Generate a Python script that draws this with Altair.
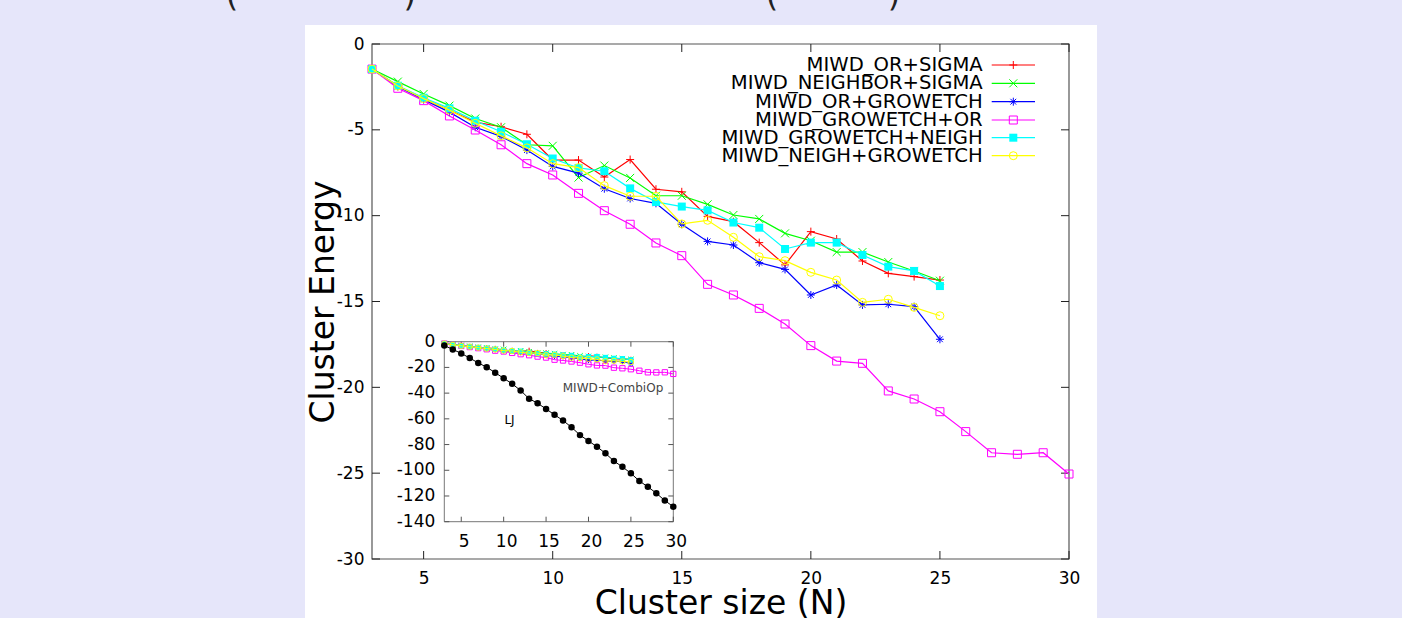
import altair as alt
import pandas as pd

# ---------------- data ----------------
N_SHORT = list(range(3, 26))
N_LONG = list(range(3, 31))

series_names = ["MIWD_OR+SIGMA", "MIWD_NEIGHBOR+SIGMA", "MIWD_OR+GROWETCH",
                "MIWD_GROWETCH+OR", "MIWD_GROWETCH+NEIGH", "MIWD_NEIGH+GROWETCH"]
series_colors = ["#ff0000", "#00ff00", "#0000ff", "#ff00ff", "#00ffff", "#ffff00"]

or_sigma = [-1.46, -2.45, -3.18, -3.85, -4.55, -4.82, -5.26, -6.76, -6.76, -7.75, -6.73, -8.46,
            -8.61, -10.04, -10.35, -11.57, -12.87, -10.93, -11.36, -12.64, -13.36, -13.55, -13.75]
neighbor_sigma = [-1.46, -2.19, -2.91, -3.59, -4.34, -4.85, -5.87, -5.93, -7.78, -7.08, -7.80, -8.84,
                  -8.84, -9.34, -9.96, -10.19, -11.03, -11.46, -12.12, -12.12, -12.70, -13.22, -13.79]
or_growetch = [-1.46, -2.47, -3.24, -3.97, -4.85, -5.38, -6.18, -7.13, -7.52, -8.43, -9.00, -9.28,
               -10.50, -11.50, -11.71, -12.74, -13.13, -14.62, -14.04, -15.20, -15.16, -15.30, -17.20]
growetch_or = [-1.46, -2.58, -3.30, -4.19, -5.01, -5.87, -6.97, -7.63, -8.70, -9.71, -10.50, -11.59,
               -12.33, -14.00, -14.62, -15.40, -16.31, -17.57, -18.47, -18.60, -20.21, -20.68, -21.42,
               -22.58, -23.81, -23.90, -23.81, -25.05]
growetch_neigh = [-1.46, -2.43, -3.13, -3.75, -4.47, -5.11, -5.84, -6.67, -7.22, -7.41, -8.41, -9.20,
                  -9.47, -9.69, -10.40, -10.70, -11.94, -11.57, -11.57, -12.29, -12.97, -13.22, -14.10]
neigh_growetch = [-1.46, -2.45, -3.18, -3.85, -4.62, -5.35, -6.05, -6.97, -7.20, -8.25, -8.87, -8.87,
                  -10.48, -10.27, -11.26, -12.39, -12.62, -13.30, -13.75, -15.05, -14.87, -15.34, -15.83]
lj = [-3.0, -6.0, -9.1, -12.71, -16.51, -19.82, -24.11, -28.42, -32.77, -37.97, -44.33, -47.85,
      -52.32, -56.82, -61.32, -66.53, -72.66, -77.18, -81.68, -86.81, -92.84, -97.35, -102.37,
      -108.32, -112.87, -117.82, -123.59, -128.29]

series_values = [or_sigma, neighbor_sigma, or_growetch, growetch_or, growetch_neigh, neigh_growetch]
series_n = [N_SHORT, N_SHORT, N_SHORT, N_LONG, N_SHORT, N_SHORT]

main_xticks = [5, 10, 15, 20, 25, 30]
main_yticks = [0, -5, -10, -15, -20, -25, -30]
inset_xticks = [5, 10, 15, 20, 25, 30]
inset_yticks = [0, -20, -40, -60, -80, -100, -120, -140]

# ---------------- styling ----------------
FONT = "DejaVu Sans"
BG = "#e6e6fa"
W, H = 697, 515
PAD_L, PAD_T = 372, 44

PLUS = "M-1,0L1,0M0,-1L0,1"
CROSS = "M-1,-1L1,1M-1,1L1,-1"
STAR = "M-1,0L1,0M0,-1L0,1M-0.72,-0.72L0.72,0.72M-0.72,0.72L0.72,-0.72"
shapes = [(PLUS, False), (CROSS, False), (STAR, False), ("square", False), ("square", True), ("circle", False)]

sx = alt.Scale(domain=[3, 30], nice=False, zero=False)
sy = alt.Scale(domain=[-30, 0], nice=False, zero=False)
ax_x = alt.Axis(values=main_xticks, ticks=False, tickSize=0, domain=False, grid=False,
                labelFont=FONT, labelFontSize=17, labelColor="black", labelPadding=11,
                labelFlush=False, labelOverlap=False, labelExpr="'' + datum.value",
                title="Cluster size (N)", titleFont=FONT, titleFontSize=33, titleFontWeight="normal",
                titleColor="black", titleY=54, titleBaseline="alphabetic", zindex=1)
ax_y = alt.Axis(values=main_yticks, ticks=False, tickSize=0, domain=False, grid=False,
                labelFont=FONT, labelFontSize=17, labelColor="black", labelPadding=8,
                labelFlush=False, labelOverlap=False, labelExpr="'' + datum.value",
                title="Cluster Energy", titleFont=FONT, titleFontSize=33, titleFontWeight="normal",
                titleColor="black", titleX=-39, titleY=H / 2, titleAngle=270,
                titleAlign="center", titleBaseline="alphabetic", zindex=1)
X = alt.X("N:Q", scale=sx, axis=ax_x)
Y = alt.Y("E:Q", scale=sy, axis=ax_y)

one = pd.DataFrame({"a": [0]})

# ---------------- main plot ----------------
main_layers = []
main_layers.append(alt.Chart(one).mark_rect(color="white").encode(
    x=alt.value(305 - PAD_L), x2=alt.value(1097 - PAD_L), y=alt.value(25 - PAD_T), y2=alt.value(H + 80)))
main_layers.append(alt.Chart(one).mark_rect(fillOpacity=0, stroke="#555555", strokeWidth=1.2).encode(
    x=alt.value(0), x2=alt.value(W), y=alt.value(0), y2=alt.value(H)))

xt = pd.DataFrame({"N": main_xticks})
yt = pd.DataFrame({"E": main_yticks})
TL = 8
main_layers.append(alt.Chart(xt).mark_rule(color="#222222").encode(x=X, y=alt.value(H), y2=alt.value(H - TL)))
main_layers.append(alt.Chart(xt).mark_rule(color="#222222").encode(x=X, y=alt.value(0), y2=alt.value(TL)))
main_layers.append(alt.Chart(yt).mark_rule(color="#222222").encode(y=Y, x=alt.value(0), x2=alt.value(TL)))
main_layers.append(alt.Chart(yt).mark_rule(color="#222222").encode(y=Y, x=alt.value(W - TL), x2=alt.value(W)))

for name, vals, ns, col, (shp, fil) in zip(series_names, series_values, series_n, series_colors, shapes):
    df = pd.DataFrame({"N": ns, "E": vals, "series": name})
    main_layers.append(alt.Chart(df).mark_line(color=col, strokeWidth=1.2).encode(x=X, y=Y))
    main_layers.append(alt.Chart(df).mark_point(shape=shp, filled=fil, color=col, size=64,
                                                strokeWidth=1, opacity=1).encode(x=X, y=Y))

main = alt.layer(*main_layers)

# ---------------- inset ----------------
IX0, IX1 = 444.3 - PAD_L, 673.3 - PAD_L
IYT, IYB = 341.7 - PAD_T, 521.7 - PAD_T
isx = alt.Scale(domain=[3, 30], range=[IX0, IX1], nice=False, zero=False)
isy = alt.Scale(domain=[-140, 0], range=[IYB, IYT], nice=False, zero=False)
IX = alt.X("N:Q", scale=isx, axis=None)
IY = alt.Y("E:Q", scale=isy, axis=None)

inset_layers = []
inset_layers.append(alt.Chart(one).mark_rect(fill="white", stroke="#777777", strokeWidth=1).encode(
    x=alt.X("x0:Q", scale=isx, axis=None), x2="x1:Q",
    y=alt.Y("y0:Q", scale=isy, axis=None), y2="y1:Q").transform_calculate(
    x0="3", x1="30", y0="-140", y1="0"))
ixt = pd.DataFrame({"N": inset_xticks, "lab": [str(v) for v in inset_xticks]})
iyt = pd.DataFrame({"E": inset_yticks, "lab": [str(v) for v in inset_yticks]})
ITL = 5
inset_layers.append(alt.Chart(ixt).mark_rule(color="#555555").encode(x=IX, y=alt.value(IYB), y2=alt.value(IYB - ITL)))
inset_layers.append(alt.Chart(ixt).mark_rule(color="#555555").encode(x=IX, y=alt.value(IYT), y2=alt.value(IYT + ITL)))
inset_layers.append(alt.Chart(iyt).mark_rule(color="#555555").encode(y=IY, x=alt.value(IX0), x2=alt.value(IX0 + ITL)))
inset_layers.append(alt.Chart(iyt).mark_rule(color="#555555").encode(y=IY, x=alt.value(IX1 - ITL), x2=alt.value(IX1)))
inset_layers.append(alt.Chart(ixt).mark_text(font=FONT, fontSize=17, color="black", baseline="top",
                                             align="center", dx=3).encode(
    x=IX, y=alt.value(IYB + 12), text="lab:N"))
inset_layers.append(alt.Chart(iyt).mark_text(font=FONT, fontSize=17, color="black", baseline="middle",
                                             align="right").encode(
    y=IY, x=alt.value(IX0 - 9), text="lab:N"))

for name, vals, ns, col, (shp, fil) in zip(series_names, series_values, series_n, series_colors, shapes):
    df = pd.DataFrame({"N": ns, "E": vals})
    inset_layers.append(alt.Chart(df).mark_line(color=col, strokeWidth=1).encode(x=IX, y=IY))
    inset_layers.append(alt.Chart(df).mark_point(shape=shp, filled=fil, color=col, size=28,
                                                 strokeWidth=1, opacity=1).encode(x=IX, y=IY))
ljdf = pd.DataFrame({"N": N_LONG, "E": lj})
inset_layers.append(alt.Chart(ljdf).mark_line(color="black", strokeWidth=1).encode(x=IX, y=IY))
inset_layers.append(alt.Chart(ljdf).mark_point(shape="circle", filled=True, color="black", size=42,
                                               opacity=1).encode(x=IX, y=IY))
inset_layers.append(alt.Chart(one).mark_text(text="MIWD+CombiOp", font=FONT, fontSize=12, color="#444444",
                                             align="center", baseline="middle").encode(
    x=alt.value(613 - PAD_L), y=alt.value(387.7 - PAD_T)))
inset_layers.append(alt.Chart(one).mark_text(text="LJ", font=FONT, fontSize=12, color="black",
                                             align="center", baseline="middle").encode(
    x=alt.value(509.5 - PAD_L), y=alt.value(420 - PAD_T)))

inset = alt.layer(*inset_layers)

# ---------------- legend & decorations ----------------
leg_layers = []
row_y = [65, 83.3, 101.7, 120, 137.7, 155.7]
for name, col, (shp, fil), ry in zip(series_names, series_colors, shapes, row_y):
    yy = ry - PAD_T
    leg_layers.append(alt.Chart(one).mark_text(text=name, font=FONT, fontSize=19.6, color="black",
                                               align="right", baseline="middle").encode(
        x=alt.value(982.7 - PAD_L), y=alt.value(yy)))
    leg_layers.append(alt.Chart(one).mark_rule(color=col, strokeWidth=1.2).encode(
        x=alt.value(991.7 - PAD_L), x2=alt.value(1035 - PAD_L), y=alt.value(yy)))
    leg_layers.append(alt.Chart(one).mark_point(shape=shp, filled=fil, color=col, size=64,
                                                strokeWidth=1, opacity=1).encode(
        x=alt.value(1013.3 - PAD_L), y=alt.value(yy)))

frag_text = ["(", ")", "(", ")"]
frag_x = [232, 409.7, 772, 894]
for t, fx in zip(frag_text, frag_x):
    leg_layers.append(alt.Chart(one).mark_text(text=t, font=FONT, fontSize=32, color="#222222",
                                               align="center", baseline="alphabetic").encode(
        x=alt.value(fx - PAD_L), y=alt.value(5.5 - PAD_T)))

legend = alt.layer(*leg_layers)

chart = alt.layer(main, inset, legend).resolve_scale(
    x="independent", y="independent"
).properties(
    width=W, height=H,
    padding={"left": PAD_L, "top": PAD_T, "right": 1402 - PAD_L - W, "bottom": 618 - PAD_T - H},
    autosize=alt.AutoSizeParams(type="none"),
    background=BG,
).configure_view(stroke=None)

chart.save("out.html", embed_options={"renderer": "svg", "actions": False})
